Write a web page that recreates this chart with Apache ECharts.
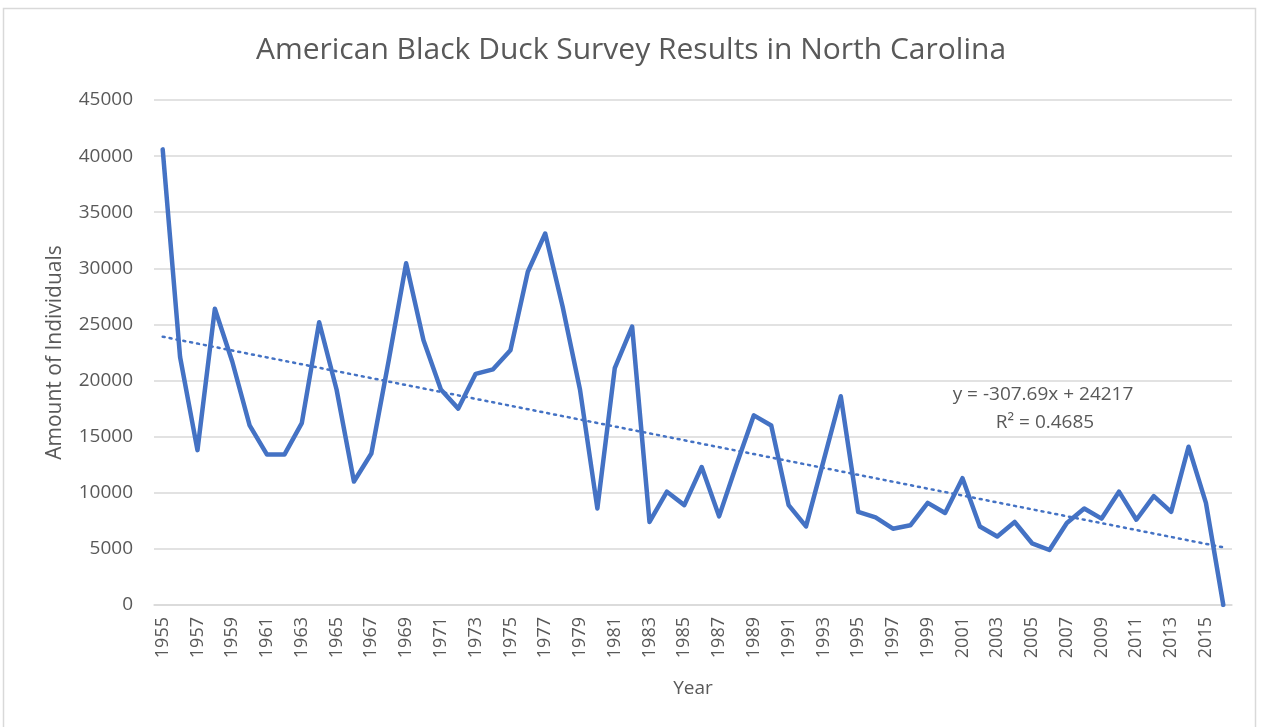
<!DOCTYPE html>
<html>
<head>
<meta charset="utf-8">
<script src="https://cdn.jsdelivr.net/npm/echarts@6/dist/echarts.min.js"></script>
<style>
  html, body { margin: 0; padding: 0; background: #fff; }
  #chart { width: 1262px; height: 727px; }
</style>
</head>
<body>
<div id="chart"></div>
<script>
const years = [];
for (let y = 1955; y <= 2016; y++) years.push(String(y));

const counts = [
  40600, 22100, 13800, 26400, 21700, 16000, 13400, 13400, 16200, 25200,
  19200, 11000, 13500, 21800, 30450, 23600, 19200, 17500, 20600, 21000,
  22700, 29700, 33100, 26600, 19200, 8600, 21100, 24800, 7400, 10100,
  8900, 12300, 7900, 12500, 16900, 16000, 8900, 7000, 12800, 18600,
  8300, 7800, 6800, 7100, 9100, 8200, 11300, 7000, 6100, 7400,
  5500, 4900, 7300, 8600, 7700, 10100, 7600, 9700, 8300, 14100,
  9100, 0
];

// linear trendline as shown on the chart: y = -307.69x + 24217 (x = 1..n)
const slope = -307.69;
const intercept = 24217;
const trend = years.map((_, i) => +(slope * (i + 1) + intercept).toFixed(1));

const yTicks = [0, 45000, 5000]; // min, max, step

const chart = echarts.init(document.getElementById('chart'));
const grey = '#595959';
const font = 'Open Sans';

chart.setOption({
  animation: false,
  backgroundColor: '#fff',
  title: {
    text: 'American Black Duck Survey Results in North Carolina',
    left: 'center',
    top: 30,
    textStyle: { fontFamily: font, fontSize: 30, fontWeight: 'normal', color: grey }
  },
  grid: { left: 154, right: 30, top: 100, bottom: 122 },
  xAxis: {
    type: 'category',
    data: years,
    boundaryGap: true,
    name: 'Year',
    nameLocation: 'middle',
    nameGap: 74,
    nameTextStyle: { fontFamily: font, fontSize: 19, color: grey },
    axisLine: { lineStyle: { color: '#d9d9d9', width: 1.5 } },
    axisTick: { show: false },
    axisLabel: {
      interval: 1,
      rotate: 90,
      margin: 12,
      fontFamily: font,
      fontSize: 18,
      color: grey
    }
  },
  yAxis: {
    type: 'value',
    min: yTicks[0],
    max: yTicks[1],
    interval: yTicks[2],
    name: 'Amount of Individuals',
    nameLocation: 'middle',
    nameGap: 88,
    nameTextStyle: { fontFamily: font, fontSize: 21, color: grey },
    axisLine: { show: false },
    axisTick: { show: false },
    axisLabel: {
      margin: 21,
      fontFamily: font,
      fontSize: 19,
      color: grey,
      formatter: v => String(v)
    },
    splitLine: { lineStyle: { color: '#d9d9d9', width: 1.5 } }
  },
  series: [
    {
      name: 'Count',
      type: 'line',
      data: counts,
      symbol: 'none',
      lineStyle: { color: '#4472c4', width: 4.5, join: 'round', cap: 'round' },
      z: 3
    },
    {
      name: 'Linear trend',
      type: 'line',
      data: trend,
      symbol: 'none',
      lineStyle: { color: '#4472c4', width: 2.5, type: [2, 5], cap: 'round' },
      z: 2
    }
  ],
  graphic: [
    {
      type: 'rect',
      shape: { x: 3.5, y: 8.5, width: 1252, height: 730 },
      style: { fill: 'none', stroke: '#d9d9d9', lineWidth: 1.5 },
      silent: true
    },
    {
      type: 'text',
      x: 1043,
      y: 395,
      style: {
        text: 'y = -307.69x + 24217',
        fontFamily: font,
        fontSize: 19,
        fill: grey,
        align: 'center',
        verticalAlign: 'middle'
      }
    },
    {
      type: 'text',
      x: 1045,
      y: 423,
      style: {
        text: 'R² = 0.4685',
        fontFamily: font,
        fontSize: 19,
        fill: grey,
        align: 'center',
        verticalAlign: 'middle'
      }
    }
  ]
});
</script>
</body>
</html>
